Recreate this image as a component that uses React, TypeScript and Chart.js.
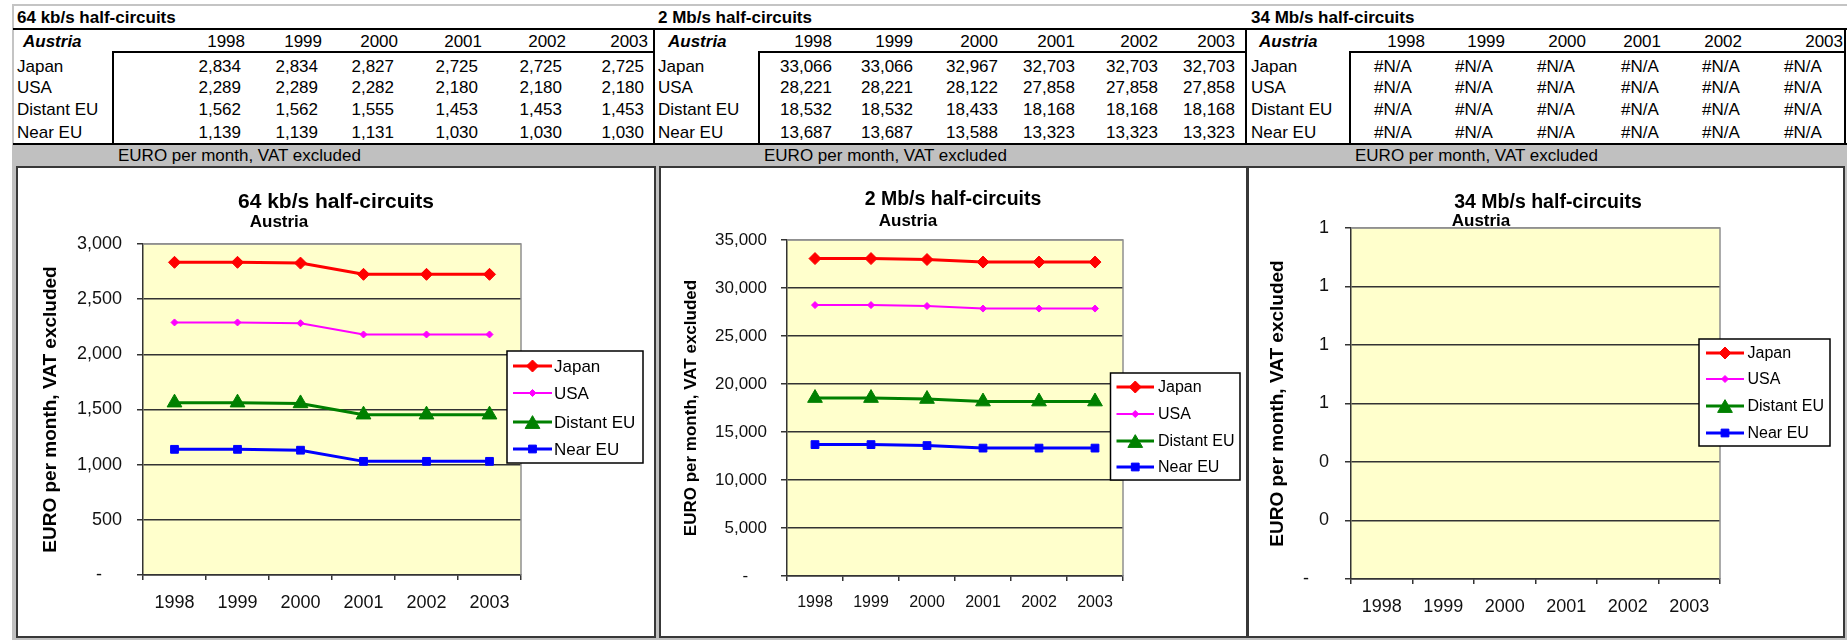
import React, { useEffect, useRef } from "react";
import { Chart, registerables } from "chart.js";

Chart.register(...registerables);

const FONT = '"Liberation Sans", Arial, Helvetica, sans-serif';
Chart.defaults.font.family = FONT;

// ---------------- data ----------------
const years = ["1998", "1999", "2000", "2001", "2002", "2003"];
const regions = ["Japan", "USA", "Distant EU", "Near EU"];
const country = "Austria";
const unitText = "EURO per month, VAT excluded";
const blockTitles = ["64 kb/s half-circuits", "2 Mb/s half-circuits", "34 Mb/s half-circuits"];

const japan64 = [2834, 2834, 2827, 2725, 2725, 2725];
const usa64 = [2289, 2289, 2282, 2180, 2180, 2180];
const distant64 = [1562, 1562, 1555, 1453, 1453, 1453];
const near64 = [1139, 1139, 1131, 1030, 1030, 1030];

const japan2m = [33066, 33066, 32967, 32703, 32703, 32703];
const usa2m = [28221, 28221, 28122, 27858, 27858, 27858];
const distant2m = [18532, 18532, 18433, 18168, 18168, 18168];
const near2m = [13687, 13687, 13588, 13323, 13323, 13323];

const japan34m: (number | null)[] = [null, null, null, null, null, null];
const usa34m: (number | null)[] = [null, null, null, null, null, null];
const distant34m: (number | null)[] = [null, null, null, null, null, null];
const near34m: (number | null)[] = [null, null, null, null, null, null];

const yLabels64 = ["-", "500", "1,000", "1,500", "2,000", "2,500", "3,000"];
const yLabels2m = ["-", "5,000", "10,000", "15,000", "20,000", "25,000", "30,000", "35,000"];
const yLabels34m = ["-", "0", "0", "1", "1", "1", "1"];

// ---------------- styles ----------------
const seriesStyle = [
  { color: "#FF0000", width: 3, point: "rectRot", radius: 6 },
  { color: "#FF00FF", width: 2, point: "rectRot", radius: 3.5 },
  { color: "#008000", width: 3, point: "triangle", radius: 8.5 },
  { color: "#0000FF", width: 3, point: "rect", radius: 5.5 },
];

function fmt(v: number | null) {
  return v === null ? "#N/A" : v.toLocaleString("en-US");
}

function drawMarker(ctx: CanvasRenderingContext2D, style: string, x: number, y: number, r: number, color: string) {
  ctx.save();
  ctx.fillStyle = color;
  ctx.strokeStyle = color;
  ctx.lineWidth = 1;
  ctx.beginPath();
  if (style === "rectRot") {
    ctx.moveTo(x, y - r);
    ctx.lineTo(x + r, y);
    ctx.lineTo(x, y + r);
    ctx.lineTo(x - r, y);
    ctx.closePath();
  } else if (style === "triangle") {
    const h = 1.5 * r;
    const w = r * Math.sqrt(3);
    ctx.moveTo(x, y - h / 2);
    ctx.lineTo(x + w / 2, y + h / 2);
    ctx.lineTo(x - w / 2, y + h / 2);
    ctx.closePath();
  } else {
    const s = r * Math.SQRT1_2;
    ctx.rect(x - s, y - s, 2 * s, 2 * s);
  }
  ctx.fill();
  ctx.stroke();
  ctx.restore();
}

const excelPlugin = {
  id: "excel",
  beforeDraw(chart: any) {
    const { ctx, chartArea: a } = chart;
    ctx.save();
    ctx.fillStyle = "#FFFFCC";
    ctx.fillRect(a.left, a.top, a.right - a.left, a.bottom - a.top);
    ctx.restore();
  },
  beforeDatasetsDraw(chart: any) {
    const { ctx, chartArea: a } = chart;
    ctx.save();
    ctx.strokeStyle = "#909090";
    ctx.lineWidth = 1.5;
    ctx.beginPath();
    ctx.moveTo(a.left, a.top);
    ctx.lineTo(a.right, a.top);
    ctx.lineTo(a.right, a.bottom);
    ctx.stroke();
    ctx.restore();
  },
  afterDraw(chart: any, _args: any, opts: any) {
    const { ctx } = chart;
    ctx.save();
    ctx.fillStyle = "#000";
    ctx.textAlign = "center";
    ctx.textBaseline = "middle";
    ctx.font = `bold ${opts.titleSize}px ${FONT}`;
    ctx.fillText(opts.title, opts.titleX, opts.titleY);
    ctx.font = `bold ${opts.subSize}px ${FONT}`;
    ctx.fillText(opts.sub, opts.subX, opts.subY);

    const L = opts.legend;
    ctx.fillStyle = "#fff";
    ctx.fillRect(L.x, L.y, L.w, L.h);
    ctx.strokeStyle = "#000";
    ctx.lineWidth = 1.5;
    ctx.strokeRect(L.x, L.y, L.w, L.h);
    chart.data.datasets.forEach((ds: any, i: number) => {
      const y = L.rows[i];
      ctx.strokeStyle = ds.borderColor;
      ctx.lineWidth = ds.borderWidth;
      ctx.beginPath();
      ctx.moveTo(L.x0, y);
      ctx.lineTo(L.x1, y);
      ctx.stroke();
      drawMarker(ctx, ds.pointStyle, (L.x0 + L.x1) / 2, y, ds.pointRadius, ds.borderColor);
      ctx.fillStyle = "#000";
      ctx.textAlign = "left";
      ctx.textBaseline = "middle";
      ctx.font = `${L.size}px ${FONT}`;
      ctx.fillText(ds.label, L.textX, y + 1);
    });
    ctx.restore();
  },
};

type Cfg = {
  title: string;
  series: (number | null)[][];
  max: number;
  step: number;
  yLabels: string[];
  left: number; top: number; w: number; h: number;
  yW: number; xH: number; padTop: number; padRight: number;
  yTickPad: number; xTickPad: number; yTitlePad: number;
  fonts: { title: number; sub: number; yTitle: number; yTick: number; xTick: number; legend: number };
  titleX: number; titleY: number; subX: number; subY: number;
  legend: { x: number; y: number; w: number; h: number; x0: number; x1: number; textX: number; rows: number[] };
};

function ExcelChart({ cfg }: { cfg: Cfg }) {
  const ref = useRef<HTMLCanvasElement>(null);
  useEffect(() => {
    const chart = new Chart(ref.current as HTMLCanvasElement, {
      type: "line",
      data: {
        labels: years,
        datasets: regions.map((name, i) => ({
          label: name,
          data: cfg.series[i],
          borderColor: seriesStyle[i].color,
          backgroundColor: seriesStyle[i].color,
          borderWidth: seriesStyle[i].width,
          pointStyle: seriesStyle[i].point as any,
          pointRadius: seriesStyle[i].radius,
          pointBackgroundColor: seriesStyle[i].color,
          pointBorderColor: seriesStyle[i].color,
          pointBorderWidth: 1,
          tension: 0,
          fill: false,
        })),
      },
      options: {
        animation: false,
        responsive: false,
        maintainAspectRatio: false,
        devicePixelRatio: 1,
        events: [],
        layout: { padding: { top: cfg.padTop, right: cfg.padRight, left: 0, bottom: 0 } },
        plugins: {
          legend: { display: false },
          title: { display: false },
          tooltip: { enabled: false },
          excel: {
            title: cfg.title,
            titleSize: cfg.fonts.title,
            titleX: cfg.titleX,
            titleY: cfg.titleY,
            sub: country,
            subSize: cfg.fonts.sub,
            subX: cfg.subX,
            subY: cfg.subY,
            legend: { ...cfg.legend, size: cfg.fonts.legend },
          },
        } as any,
        scales: {
          x: {
            type: "category",
            offset: true,
            grid: {
              offset: true,
              drawOnChartArea: false,
              drawTicks: true,
              tickLength: 5,
              color: "#333",
              lineWidth: 1.5,
            },
            border: { display: true, color: "#333", width: 1.5 },
            ticks: {
              color: "#111",
              font: { size: cfg.fonts.xTick },
              padding: cfg.xTickPad,
              maxRotation: 0,
              autoSkip: false,
            },
            afterFit: (s: any) => {
              s.height = cfg.xH;
            },
          },
          y: {
            min: 0,
            max: cfg.max,
            ticks: {
              stepSize: cfg.step,
              color: "#111",
              font: { size: cfg.fonts.yTick },
              padding: cfg.yTickPad,
              callback: (_v: any, i: number) => {
                const s = cfg.yLabels[i] ?? "";
                return s === "-" ? "-    " : s;
              },
            },
            grid: {
              color: (c: any) => (c.tick && c.tick.value >= cfg.max - cfg.step / 100 ? "#909090" : "#333"),
              tickColor: "#333",
              lineWidth: 1.5,
              tickLength: 6,
            },
            border: { display: true, color: "#333", width: 1.5 },
            title: {
              display: true,
              text: unitText,
              color: "#000",
              font: { size: cfg.fonts.yTitle, weight: "bold" },
              padding: { top: cfg.yTitlePad, bottom: 0 },
            },
            afterFit: (s: any) => {
              s.width = cfg.yW;
            },
          },
        },
      },
      plugins: [excelPlugin as any],
    });
    return () => chart.destroy();
  }, []);
  return (
    <canvas
      ref={ref}
      width={cfg.w}
      height={cfg.h}
      style={{ position: "absolute", left: cfg.left, top: cfg.top, width: cfg.w, height: cfg.h }}
    />
  );
}

const chartCfgs: Cfg[] = [
  {
    title: blockTitles[0],
    series: [japan64, usa64, distant64, near64],
    max: 3000, step: 500, yLabels: yLabels64,
    left: 18, top: 168, w: 636, h: 468,
    yW: 125, xH: 61, padTop: 76, padRight: 133,
    yTickPad: 15, xTickPad: 12, yTitlePad: 21,
    fonts: { title: 21, sub: 17, yTitle: 19, yTick: 18, xTick: 18, legend: 17 },
    titleX: 318, titleY: 34, subX: 261, subY: 54,
    legend: { x: 489, y: 183, w: 136, h: 112, x0: 495, x1: 534, textX: 536, rows: [198, 225, 254, 281] },
  },
  {
    title: blockTitles[1],
    series: [japan2m, usa2m, distant2m, near2m],
    max: 35000, step: 5000, yLabels: yLabels2m,
    left: 661, top: 168, w: 585, h: 468,
    yW: 126, xH: 60, padTop: 72, padRight: 123,
    yTickPad: 14, xTickPad: 12, yTitlePad: 20,
    fonts: { title: 19.5, sub: 17, yTitle: 17, yTick: 17, xTick: 16, legend: 16 },
    titleX: 292, titleY: 32, subX: 247, subY: 53,
    legend: { x: 449.5, y: 205, w: 129.5, h: 107, x0: 455.5, x1: 493, textX: 497, rows: [219, 246, 273, 299] },
  },
  {
    title: blockTitles[2],
    series: [japan34m, usa34m, distant34m, near34m],
    max: 1.2, step: 0.2, yLabels: yLabels34m,
    left: 1249, top: 168, w: 594, h: 468,
    yW: 102, xH: 57, padTop: 60, padRight: 123,
    yTickPad: 16, xTickPad: 12, yTitlePad: 17,
    fonts: { title: 19.5, sub: 17, yTitle: 19, yTick: 18, xTick: 18, legend: 16 },
    titleX: 299, titleY: 35, subX: 232, subY: 53,
    legend: { x: 450, y: 171, w: 131, h: 107, x0: 457, x1: 495, textX: 498.5, rows: [185, 211, 238, 265] },
  },
];

// ---------------- table layout ----------------
const blocks = [
  {
    labelX: 17, austriaX: 23, boxX: 113, rightX: 654,
    yearRights: [245, 322, 398, 482, 566, 648], numShift: -4, naCenters: [] as number[],
    series: [japan64, usa64, distant64, near64],
  },
  {
    labelX: 658, austriaX: 668, boxX: 759, rightX: 1246,
    yearRights: [832, 913, 998, 1075, 1158, 1235], numShift: 0, naCenters: [] as number[],
    series: [japan2m, usa2m, distant2m, near2m],
  },
  {
    labelX: 1251, austriaX: 1259, boxX: 1350, rightX: 1845,
    yearRights: [1425, 1505, 1586, 1661, 1742, 1843], numShift: 0,
    naCenters: [1393, 1474, 1556, 1640, 1721, 1803],
    series: [japan34m, usa34m, distant34m, near34m],
  },
];
const rowY = [67, 88, 110, 133];

function Txt(p: { x: number; y: number; t: string; align?: "left" | "right" | "center"; bold?: boolean; italic?: boolean; size?: number }) {
  const w = 240;
  const align = p.align ?? "left";
  const left = align === "right" ? p.x - w : align === "center" ? p.x - w / 2 : p.x;
  return (
    <div
      style={{
        position: "absolute",
        left,
        top: p.y - 10,
        width: w,
        height: 20,
        lineHeight: "20px",
        textAlign: align,
        fontFamily: FONT,
        fontSize: p.size ?? 17,
        fontWeight: p.bold ? 700 : 400,
        fontStyle: p.italic ? "italic" : "normal",
        whiteSpace: "nowrap",
        color: "#000",
      }}
    >
      {p.t}
    </div>
  );
}

function R(p: { x: number; y: number; w: number; h: number; c?: string }) {
  return <div style={{ position: "absolute", left: p.x, top: p.y, width: p.w, height: p.h, background: p.c ?? "#000" }} />;
}

export default function App() {
  const boxes = [
    { x: 16, w: 640 },
    { x: 659, w: 589 },
    { x: 1247, w: 598 },
  ];
  return (
    <div
      style={{
        position: "absolute",
        left: 0,
        top: 0,
        width: 1847,
        height: 640,
        overflow: "hidden",
        background: "#fff",
      }}
    >
      {/* sheet grid edges */}
      <R x={12} y={4} w={1835} h={1.5} c="#c4c4c4" />
      <R x={12} y={4} w={1.5} h={141} c="#c4c4c4" />
      {/* gray band & chart background */}
      <R x={12} y={145} w={1835} h={495} c="#c0c0c0" />
      {/* table lines */}
      <R x={13} y={28} w={1834} h={2} />
      <R x={13} y={143} w={1834} h={2} />
      {blocks.map((b, bi) => (
        <React.Fragment key={"l" + bi}>
          <R x={b.rightX - 1} y={28} w={2} h={117} />
          <R x={b.boxX - 1} y={51} w={2} h={94} />
          <R x={b.boxX - 1} y={51} w={b.rightX - b.boxX + 1} h={2} />
        </React.Fragment>
      ))}
      {/* table text */}
      {blocks.map((b, bi) => (
        <React.Fragment key={"t" + bi}>
          <Txt x={b.labelX} y={18} t={blockTitles[bi]} bold />
          <Txt x={b.austriaX} y={42} t={country} bold italic />
          {years.map((yr, yi) => (
            <Txt key={yr} x={b.yearRights[yi]} y={42} t={yr} align="right" />
          ))}
          {regions.map((rg, ri) => (
            <React.Fragment key={rg}>
              <Txt x={b.labelX} y={rowY[ri]} t={rg} />
              {b.series[ri].map((v, vi) =>
                v === null ? (
                  <Txt key={vi} x={b.naCenters[vi] ?? b.yearRights[vi] - 30} y={rowY[ri]} t={fmt(v)} align="center" />
                ) : (
                  <Txt key={vi} x={b.yearRights[vi] + b.numShift} y={rowY[ri]} t={fmt(v)} align="right" />
                )
              )}
            </React.Fragment>
          ))}
          <Txt x={b.boxX + 5} y={156} t={unitText} />
        </React.Fragment>
      ))}
      {/* chart boxes */}
      {boxes.map((b, i) => (
        <div
          key={"b" + i}
          style={{
            position: "absolute",
            left: b.x,
            top: 166,
            width: b.w,
            height: 472,
            boxSizing: "border-box",
            border: "2px solid #383838",
            background: "#fff",
          }}
        />
      ))}
      {chartCfgs.map((c, i) => (
        <ExcelChart key={"c" + i} cfg={c} />
      ))}
    </div>
  );
}
